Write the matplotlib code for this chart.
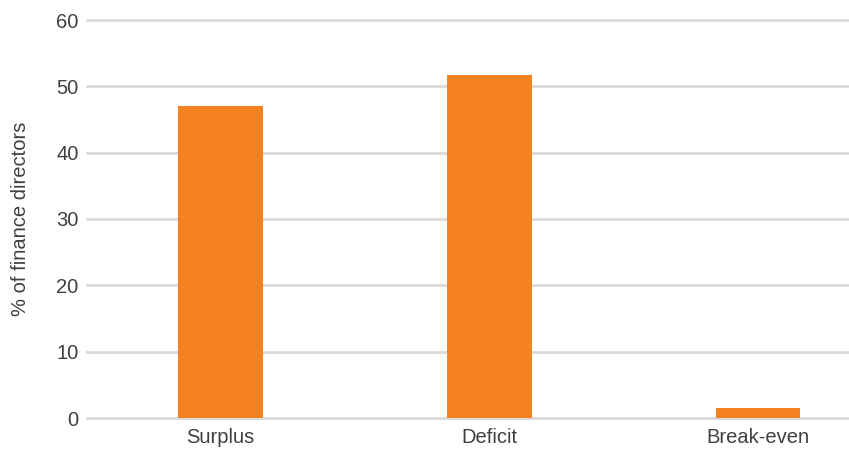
import matplotlib
matplotlib.use("Agg")
import matplotlib.pyplot as plt

categories = ["Surplus", "Deficit", "Break-even"]
values = [47.1, 51.7, 1.5]
y_ticks = [0, 10, 20, 30, 40, 50, 60]

plt.rcParams["font.family"] = ["Liberation Sans", "DejaVu Sans"]

fig = plt.figure(figsize=(8.49, 4.49), dpi=100)
ax = fig.add_axes([87 / 849, 1 - 418 / 449, (849 - 87) / 849, (418 - 20) / 449])

x = range(len(categories))
ax.bar(x, values, width=0.316, color="#F58220", zorder=3)

ax.set_ylim(0, 60)
ax.set_xlim(-0.498, 2.339)
ax.set_yticks(y_ticks)
ax.set_xticks(list(x))
ax.set_xticklabels(categories)
ax.grid(axis="y", color="#d9d9d9", linewidth=2, zorder=0)
for gl in ax.get_ygridlines():
    gl.set_clip_on(False)
ax.set_axisbelow(True)
for s in ax.spines.values():
    s.set_visible(False)
ax.tick_params(axis="both", length=0, labelsize=14.5, colors="#404040")
ax.tick_params(axis="y", pad=6)
ax.tick_params(axis="x", pad=7)
ax.set_ylabel("% of finance directors", fontsize=14.5, color="#404040", labelpad=19)

fig.savefig("out.png", dpi=100)
